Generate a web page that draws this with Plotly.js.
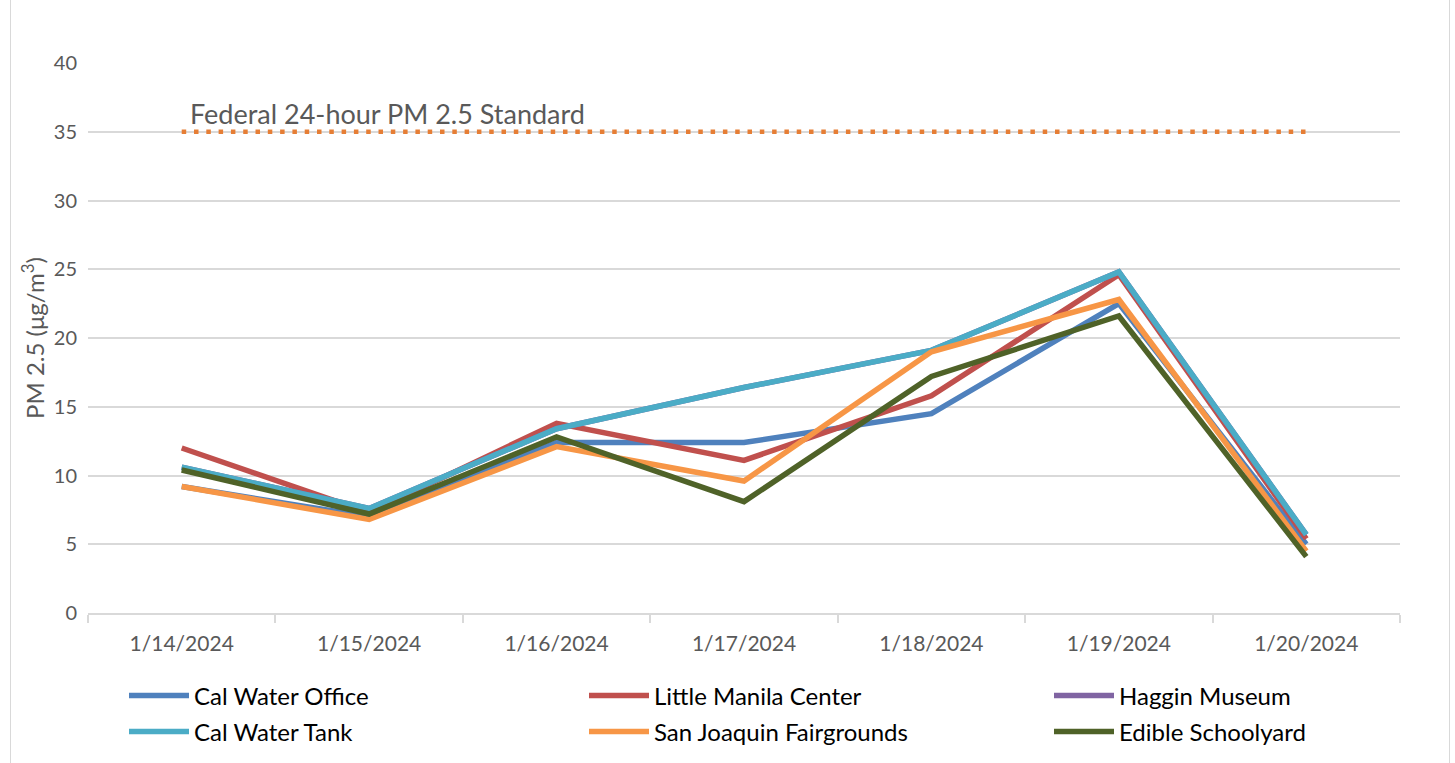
<!DOCTYPE html>
<html>
<head>
<meta charset="utf-8">
<script src="https://cdn.plot.ly/plotly-3.0.1.min.js"></script>
<style>
html,body{margin:0;padding:0;background:#fff;}
#chart{width:1455px;height:763px;}
#frame{position:absolute;left:10px;top:-2px;width:1438px;height:770px;border:1px solid #D9D9D9;pointer-events:none;}
</style>
</head>
<body>
<div id="chart"></div>
<div id="frame"></div>
<script>
const dates = ['1/14/2024','1/15/2024','1/16/2024','1/17/2024','1/18/2024','1/19/2024','1/20/2024'];
const calWaterOffice = [9.2, 7.0, 12.4, 12.4, 14.5, 22.5, 5.0];
const littleManila   = [12.0, 7.3, 13.8, 11.1, 15.8, 24.6, 5.4];
const hagginMuseum   = [10.6, 7.6, 13.4, 16.4, 19.1, 24.8, 5.7];
const calWaterTank   = [10.6, 7.6, 13.4, 16.4, 19.1, 24.8, 5.7];
const sjFairgrounds  = [9.2, 6.8, 12.1, 9.6, 19.0, 22.8, 4.5];
const edibleSchool   = [10.4, 7.2, 12.8, 8.1, 17.2, 21.6, 4.1];
const standardDates = ['1/14/2024','1/20/2024'];
const standardValue = [35, 35];
const standardLabel = 'Federal 24-hour PM 2.5 Standard';
const yTicks = [0,5,10,15,20,25,30,35,40];

const names = ['Cal Water Office','Little Manila Center','Haggin Museum','Cal Water Tank','San Joaquin Fairgrounds','Edible Schoolyard'];
const series = [calWaterOffice, littleManila, hagginMuseum, calWaterTank, sjFairgrounds, edibleSchool];
const colors = ['#4F81BD','#C0504D','#8064A2','#4BACC6','#F79646','#4F6228'];

const fontFam = 'Lato, "Open Sans", sans-serif';
// legend grid: 3 columns x 2 rows (pixel anchors of each entry)
const legCols = [124, 584, 1049];
const legRows = [696, 732];

const traces = series.map((s,i)=>({
  type:'scatter', mode:'lines', x:dates, y:s, name:names[i],
  legend: i === 0 ? 'legend' : 'legend' + (i+1),
  line:{color:colors[i], width:5.5}
}));
traces.push({
  type:'scatter', mode:'lines', x:standardDates, y:standardValue, showlegend:false,
  line:{color:'#E67E35', width:4.5, dash:'4.5px,7.8px'}, hoverinfo:'skip'
});

const layout = {
  width:1455, height:763,
  margin:{l:88, r:55, t:63, b:150, autoexpand:false},
  paper_bgcolor:'#fff', plot_bgcolor:'#fff',
  font:{family:fontFam, color:'#595959'},
  showlegend:true,
  xaxis:{
    type:'category', range:[-0.5,6.5], tickson:'boundaries',
    ticks:'outside', ticklen:8, tickcolor:'#D9D9D9', tickwidth:1.5,
    showline:true, linecolor:'#D9D9D9', linewidth:1.5,
    showgrid:false, zeroline:false,
    tickfont:{size:21, color:'#595959', family:fontFam},
    ticklabelstandoff:11
  },
  yaxis:{
    range:[0,40], tickvals:yTicks, ticks:'',
    showgrid:true, gridcolor:'#D9D9D9', gridwidth:1.5,
    zeroline:false, showline:false,
    tickfont:{size:20, color:'#595959', family:fontFam},
    ticklabelstandoff:10
  },
  annotations:[
    {text:standardLabel, xref:'paper', yref:'y', x:0.076, y:35, xanchor:'left', yanchor:'bottom', yshift:0,
     showarrow:false, font:{size:27, color:'#595959', family:fontFam}},
    {text:'PM 2.5 (μg/m<sup>3</sup>)', xref:'paper', yref:'paper', x:-0.042, y:0.5, xanchor:'center', yanchor:'middle',
     textangle:-90, showarrow:false, font:{size:24, color:'#595959', family:fontFam}}
  ]
};
names.forEach((n,i)=>{
  const key = i === 0 ? 'legend' : 'legend' + (i+1);
  layout[key] = {
    orientation:'h', xref:'container', yref:'container',
    x: legCols[i % 3] / 1455, xanchor:'left',
    y: 1 - legRows[Math.floor(i / 3)] / 763, yanchor:'middle',
    font:{size:24, color:'#000', family:fontFam},
    itemwidth:60, bgcolor:'rgba(0,0,0,0)'
  };
});
Plotly.newPlot('chart', traces, layout, {displayModeBar:false, responsive:false});
</script>
</body>
</html>
